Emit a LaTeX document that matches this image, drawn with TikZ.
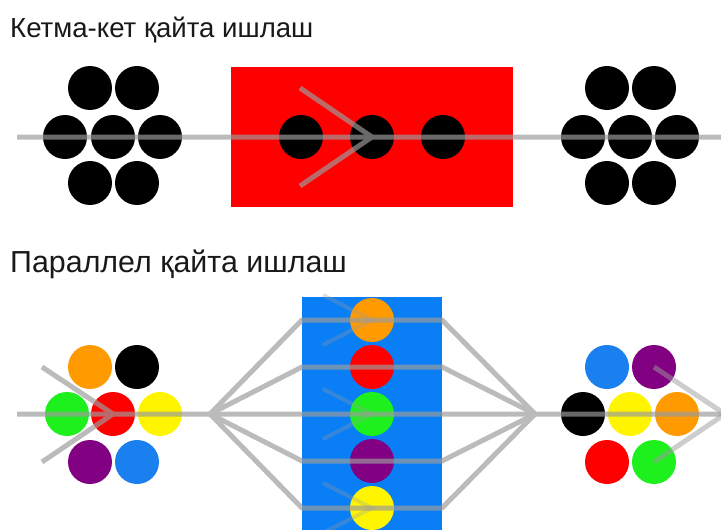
\documentclass[tikz,border=0pt]{standalone}
\usepackage{fontspec}
\setmainfont{Liberation Sans}
\definecolor{lgray}{HTML}{9C9C9C}
\definecolor{cred}{HTML}{FF0000}
\definecolor{corange}{HTML}{FF9A00}
\definecolor{cgreen}{HTML}{1EF01E}
\definecolor{cyellow}{HTML}{FFF500}
\definecolor{cpurple}{HTML}{820082}
\definecolor{cblue}{HTML}{1A80F0}
\definecolor{boxblue}{HTML}{0A7EF5}
\begin{document}
\begin{tikzpicture}[x=1pt,y=-1pt,
  dot/.style={circle,inner sep=0pt,minimum size=44pt,draw=none},
  flow/.style={draw=lgray,line width=5pt},
  title/.style={anchor=base west,inner sep=0pt,text=black!90}]
\useasboundingbox (0,0) rectangle (721,530);
\clip (0,0) rectangle (721,530);
\fill[white] (0,0) rectangle (721,530);
% titles
\node[title,font=\fontsize{27.6}{30}\selectfont] (t1) at (10,37) {Кетма-кет қайта ишлаш};
\node[title,font=\fontsize{30.4}{33}\selectfont] (t2) at (10,272) {Параллел қайта ишлаш};
% ---------- top: serial ----------
\node[fill=cred,minimum width=282pt,minimum height=140pt,inner sep=0pt] (rbox) at (372,137) {};
\foreach \n/\x/\y in {a/90/88,b/137/88,c/65/137,d/113/137,e/160/137,f/90/183,g/137/183}
  \node[dot,fill=black] (L\n) at (\x,\y) {};
\foreach \n/\x/\y in {a/607/88,b/654/88,c/583/137,d/630/137,e/677/137,f/607/183,g/654/183}
  \node[dot,fill=black] (R\n) at (\x,\y) {};
\node[dot,fill=black] (m1) at (301,137) {};
\node[dot,fill=black] (m2) at (372,137) {};
\node[dot,fill=black] (m3) at (443,137) {};
% ---------- bottom: parallel ----------
\node[fill=boxblue,minimum width=140pt,minimum height=240pt,inner sep=0pt,anchor=north] (bbox) at (372,297) {};
\node[dot,fill=corange] (P1) at (90,367) {};
\node[dot,fill=black]   (P2) at (137,367) {};
\node[dot,fill=cgreen]  (P3) at (67,414) {};
\node[dot,fill=cred]    (P4) at (113,414) {};
\node[dot,fill=cyellow] (P5) at (160,414) {};
\node[dot,fill=cpurple] (P6) at (90,462) {};
\node[dot,fill=cblue]   (P7) at (137,462) {};
\node[dot,fill=corange] (B1) at (372,320) {};
\node[dot,fill=cred]    (B2) at (372,367) {};
\node[dot,fill=cgreen]  (B3) at (372,414) {};
\node[dot,fill=cpurple] (B4) at (372,461) {};
\node[dot,fill=cyellow] (B5) at (372,508) {};
\node[dot,fill=cblue]   (Q1) at (607,367) {};
\node[dot,fill=cpurple] (Q2) at (654,367) {};
\node[dot,fill=black]   (Q3) at (583,414) {};
\node[dot,fill=cyellow] (Q4) at (630,414) {};
\node[dot,fill=corange] (Q5) at (677,414) {};
\node[dot,fill=cred]    (Q6) at (607,462) {};
\node[dot,fill=cgreen]  (Q7) at (654,462) {};
% coordinates for the flow lines
\coordinate (s1) at (17,137);
\coordinate (e1) at (725,137);
\coordinate (c1a) at (300,88);
\coordinate (c1b) at (300,186);
\coordinate (s2) at (17,414);
\coordinate (fork) at (210,414);
\coordinate (join) at (535,414);
\coordinate (e2) at (725,414);
\coordinate (c2a) at (42,367);
\coordinate (c2b) at (42,462);
\coordinate (c3t) at (725,414);
\foreach \i/\y in {1/320,2/367,3/414,4/461,5/508}{
  \coordinate (in\i) at (302,\y);
  \coordinate (out\i) at (442,\y);
}
\begin{scope}[transparency group,opacity=0.68]
  \draw[flow] (s1) -- (e1);
  \draw[flow,line join=miter] (c1a) -- (m2.center) -- (c1b);
  \draw[flow] (s2) -- (fork);
  \draw[flow,line join=miter] (c2a) -- (P4.center) -- (c2b);
  \foreach \i in {1,...,5}
    \draw[flow,line join=round] (fork) -- (in\i) -- (out\i) -- (join);
  \draw[flow] (join) -- (e2);
\end{scope}
\begin{scope}[transparency group,opacity=0.5]
  \draw[flow,line join=miter] (Q2.center) -- (c3t) -- (Q7.center);
\end{scope}
\begin{scope}[opacity=0.3]
  \foreach \b/\y in {B1/320,B3/414,B5/508}{
    \draw[flow,line width=4pt,line join=miter] (323,\y-25) -- (\b.center) -- (323,\y+25);
  }
\end{scope}
\end{tikzpicture}
\end{document}
